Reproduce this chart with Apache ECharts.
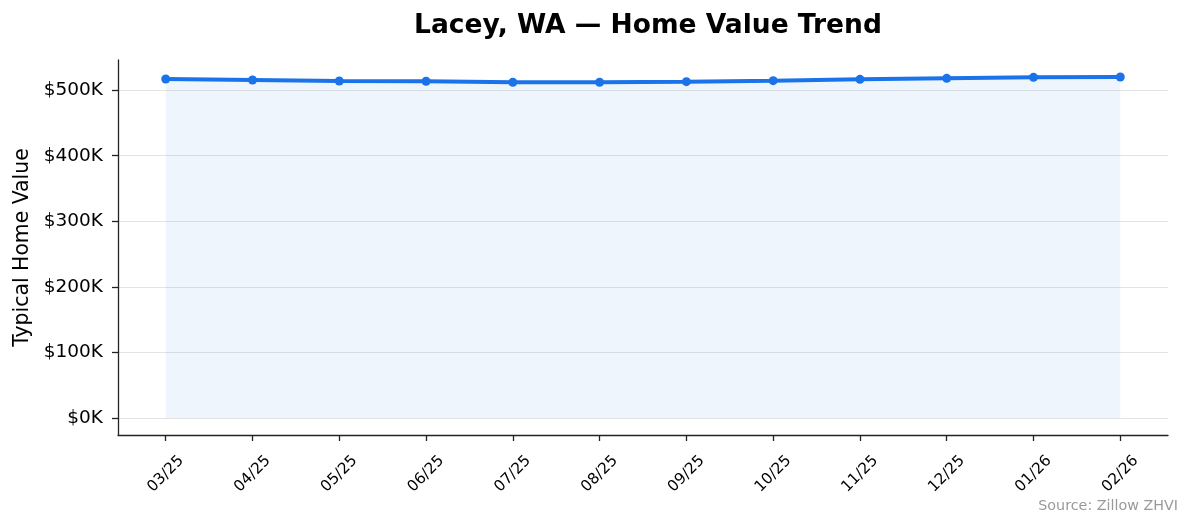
<!DOCTYPE html>
<html><head><meta charset="utf-8">
<script src="https://cdn.jsdelivr.net/npm/echarts@6/dist/echarts.min.js"></script>
<style>html,body{margin:0;padding:0;background:#fff}#c{width:1194px;height:529px}</style>
</head><body><div id="c"></div>
<script>
const categories = ['03/25','04/25','05/25','06/25','07/25','08/25','09/25','10/25','11/25','12/25','01/26','02/26'];
const homeValues = [517000, 515500, 514000, 513500, 512000, 512000, 513000, 514500, 516500, 518000, 519500, 520000];
const yTicks = [0, 100000, 200000, 300000, 400000, 500000];
const xTicks = categories.map((_, i) => i);

const font = 'DejaVu Sans';
const chart = echarts.init(document.getElementById('c'), null, {renderer: 'canvas'});
chart.setOption({
  animation: false,
  backgroundColor: '#fff',
  title: [
    {text: 'Lacey, WA — Home Value Trend', left: 643, top: 8, textAlign: 'center',
     textStyle: {fontFamily: font, fontSize: 26.5, fontWeight: 'bold', color: '#000'}},
    {text: 'Source: Zillow ZHVI', right: 11, top: 494,
     textStyle: {fontFamily: font, fontSize: 14.3, fontWeight: 'normal', color: '#999'}}
  ],
  grid: {left: 118, right: 26, top: 60, bottom: 94, containLabel: false},
  xAxis: {
    type: 'value', min: -0.55, max: 11.55,
    axisLine: {show: true, onZero: false, lineStyle: {color: '#222', width: 1.3}},
    axisTick: {show: true, customValues: xTicks, length: 6, lineStyle: {color: '#222', width: 1.3}},
    axisLabel: {customValues: xTicks, rotate: 45, margin: 39, align: 'center', verticalAlign: 'middle',
      formatter: v => categories[Math.round(v)],
      fontFamily: font, fontSize: 15.3, color: '#000'},
    splitLine: {show: false}
  },
  yAxis: {
    type: 'value', min: -26000, max: 546000,
    name: 'Typical Home Value', nameLocation: 'middle', nameGap: 85, nameRotate: 90,
    nameTextStyle: {fontFamily: font, fontSize: 20.4, color: '#000'},
    axisLine: {show: true, onZero: false, lineStyle: {color: '#222', width: 1.3}},
    axisTick: {show: true, customValues: yTicks, length: 6, lineStyle: {color: '#222', width: 1.3}},
    axisLabel: {customValues: yTicks, margin: 15, formatter: v => '$' + Math.round(v / 1000) + 'K',
      fontFamily: font, fontSize: 18.5, color: '#000'},
    splitLine: {show: true, lineStyle: {color: '#e3e3e3', width: 1.2}}
  },
  series: [{
    type: 'line',
    data: homeValues.map((v, i) => [i, v]),
    symbol: 'circle', symbolSize: 9,
    lineStyle: {color: '#1a73e8', width: 4},
    itemStyle: {color: '#1a73e8'},
    areaStyle: {color: 'rgba(26,115,232,0.1)', origin: 0},
    z: 3
  }]
});
</script></body></html>
